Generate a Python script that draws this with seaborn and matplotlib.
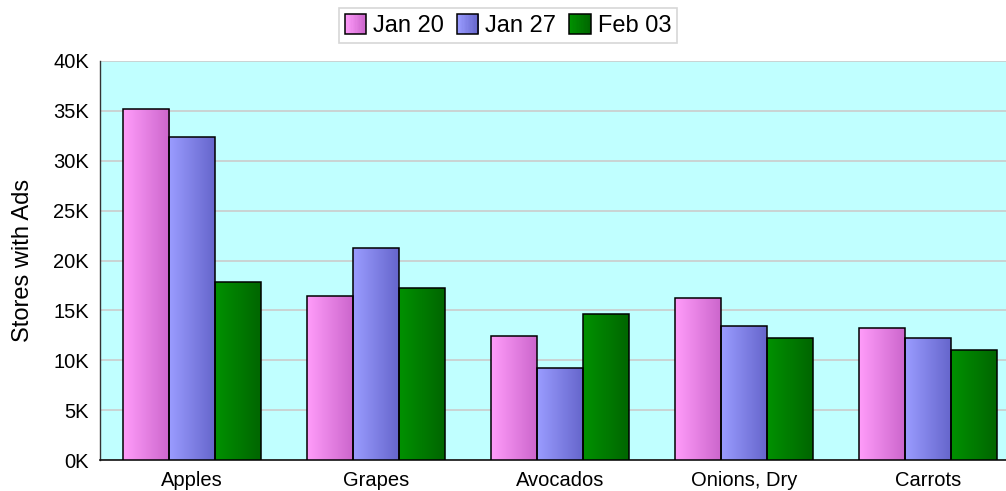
import numpy as np
import pandas as pd
import matplotlib
matplotlib.use("Agg")
import matplotlib.pyplot as plt
import seaborn as sns
from matplotlib.colors import LinearSegmentedColormap, to_rgb
from matplotlib.patches import Rectangle
from matplotlib.legend_handler import HandlerBase
from matplotlib.ticker import FuncFormatter, MultipleLocator

# Weekly counts of stores running ads, per produce item
categories = ["Apples", "Grapes", "Avocados", "Onions, Dry", "Carrots"]
weeks = ["Jan 20", "Jan 27", "Feb 03"]
jan20 = [35200, 16400, 12400, 16200, 13200]
jan27 = [32400, 21300, 9200, 13400, 12200]
feb03 = [17800, 17200, 14600, 12200, 11000]

# Left-to-right shading for each series
shades = {
    "Jan 20": ("#FF9CFA", "#CC66CC"),
    "Jan 27": ("#9A9CFF", "#6666CC"),
    "Feb 03": ("#009100", "#006600"),
}

df = pd.DataFrame({
    "item": categories * 3,
    "week": [w for w in weeks for _ in categories],
    "stores": jan20 + jan27 + feb03,
})

sns.set_theme(style="white")
plt.rcParams["font.family"] = ["Liberation Sans", "DejaVu Sans"]
plt.rcParams["text.color"] = "black"
plt.rcParams["axes.labelcolor"] = "black"

fig = plt.figure(figsize=(10.06, 4.91), dpi=100)
ax = fig.add_axes([100 / 1006, 31 / 491, 920 / 1006, 399 / 491])
ax.set_facecolor("#C0FFFF")

mid = {w: tuple((np.array(to_rgb(a)) + np.array(to_rgb(b))) / 2) for w, (a, b) in shades.items()}
sns.barplot(data=df, x="item", y="stores", hue="week", order=categories,
            hue_order=weeks, palette=mid, width=0.75, gap=0,
            edgecolor="black", linewidth=1.1, saturation=1, ax=ax,
            legend=False, zorder=3)

# Paint a horizontal gradient into every bar
grad = np.linspace(0, 1, 64).reshape(1, -1)
bars = [p for p in ax.patches if isinstance(p, Rectangle)]
for i, p in enumerate(bars):
    week = weeks[i // len(categories)]
    cmap = LinearSegmentedColormap.from_list(week, list(shades[week]))
    x0, y0 = p.get_x(), p.get_y()
    w, h = p.get_width(), p.get_height()
    im = ax.imshow(grad, extent=[x0, x0 + w, y0, y0 + h], aspect="auto",
                   cmap=cmap, zorder=2.9, interpolation="bicubic")
    im.set_clip_path(p)
    p.set_facecolor("none")

ax.set_xlim(-0.5, len(categories) - 0.5)
ax.set_ylim(0, 40000)
ax.yaxis.set_major_locator(MultipleLocator(5000))
ax.yaxis.set_major_formatter(FuncFormatter(lambda v, _: f"{v / 1000:.0f}K"))
ax.grid(axis="y", color="#CCCCCC", linewidth=1.2, zorder=0)
ax.set_axisbelow(True)
ax.tick_params(axis="both", length=0, labelsize=14.5, colors="black")
ax.tick_params(axis="y", pad=8)
ax.tick_params(axis="x", pad=8)
ax.set_xlabel("")
ax.set_ylabel("Stores with Ads", fontsize=17, labelpad=14, color="black")

for side in ("top", "right"):
    ax.spines[side].set_visible(False)
ax.spines["left"].set_color("#333333")
ax.spines["left"].set_linewidth(1.0)
ax.spines["bottom"].set_color("#111111")
ax.spines["bottom"].set_linewidth(1.2)


class GradientHandler(HandlerBase):
    def __init__(self, colors):
        super().__init__()
        self.colors = colors

    def create_artists(self, legend, orig_handle, xdescent, ydescent,
                       width, height, fontsize, trans):
        c0 = np.array(to_rgb(self.colors[0]))
        c1 = np.array(to_rgb(self.colors[1]))
        n = 16
        arts = []
        for k in range(n):
            t = k / (n - 1)
            arts.append(Rectangle((-xdescent + width * k / n, -ydescent),
                                  width / n + 0.3, height,
                                  facecolor=c0 * (1 - t) + c1 * t,
                                  edgecolor="none", transform=trans))
        arts.append(Rectangle((-xdescent, -ydescent), width, height,
                              facecolor="none", edgecolor="black",
                              linewidth=1.1, transform=trans))
        return arts


handles = [Rectangle((0, 0), 1, 1, label=w) for w in weeks]
leg = fig.legend(handles=handles, labels=weeks, loc="upper center",
                 bbox_to_anchor=(508 / 1006, 1 - 8 / 491), ncol=3,
                 fontsize=17, frameon=True, fancybox=False,
                 handlelength=0.9, handleheight=0.95, handletextpad=0.3,
                 columnspacing=0.55, borderpad=0.25, borderaxespad=0,
                 handler_map={h: GradientHandler(shades[w])
                              for h, w in zip(handles, weeks)})
leg.get_frame().set_edgecolor("#CCCCCC")
leg.get_frame().set_linewidth(1.2)
for t in leg.get_texts():
    t.set_color("black")

fig.savefig("out.png", dpi=100)
